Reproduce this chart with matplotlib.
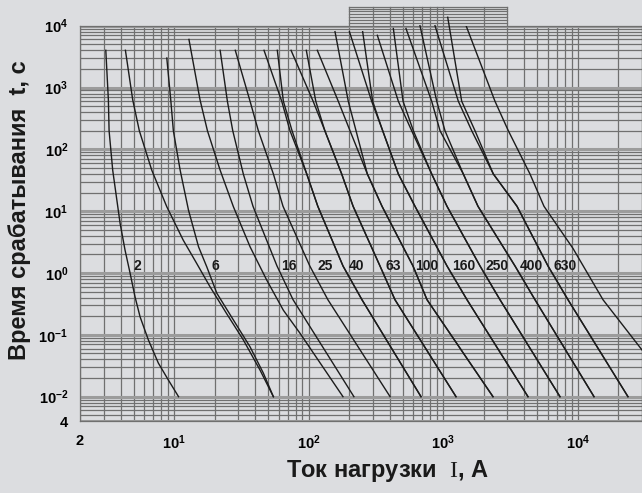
import matplotlib.pyplot as plt

plt.rcParams['font.family'] = ['Liberation Sans', 'DejaVu Sans']
plt.rcParams['mathtext.fontset'] = 'custom'
plt.rcParams['mathtext.bf'] = 'Liberation Sans:bold'
plt.rcParams['mathtext.rm'] = 'Liberation Serif'

BG = '#dcdde0'
GRID = '#707070'
CURVE = '#1c1c1c'

# single curves: current (A) and time (s)
c1_I = [3.11, 3.25, 3.29, 3.50, 3.97, 4.32, 4.71, 5.13, 5.59, 6.44, 7.64, 9.07, 10.8]
c1_t = [4000, 630, 200, 46, 6.4, 2.36, 1.0, 0.41, 0.196, 0.083, 0.035, 0.0186, 0.01]
c2_I = [4.35, 4.93, 5.52, 6.83, 8.83, 11.7, 14.7, 18.5, 24.6, 32.7, 43.5, 54.7]
c2_t = [4000, 630, 200, 46, 11.8, 3.4, 1.44, 0.6, 0.22, 0.083, 0.027, 0.01]
c3_I = [8.83, 9.45, 9.88, 11.1, 12.8, 15.2, 17.5, 20.8, 27.6, 36.7, 46.1, 54.7]
c3_t = [3000, 630, 200, 46, 10.4, 2.66, 1.26, 0.47, 0.174, 0.064, 0.024, 0.01]
c4_I = [12.9, 15.6, 17.7, 22.0, 27.6, 36.7, 48.8, 64.9, 86.3, 180]
c4_t = [6000, 630, 200, 46, 11.8, 2.66, 0.77, 0.25, 0.106, 0.01]
c5_I = [22.0, 24.9, 27.3, 32.7, 38.6, 58.2, 76.6, 217]
c5_t = [4000, 600, 200, 40, 12, 1.3, 0.37, 0.01]
c6_I = [28.5, 36.7, 42.3, 54.7, 64.5, 102, 139, 403]
c6_t = [4000, 600, 200, 40, 12, 1.3, 0.37, 0.01]
c21_I = [1387, 2425, 3047, 4413, 5608, 9211, 15390, 30000]
c21_t = [14400, 600, 200, 40, 12, 2.5, 0.37, 0.057]

# paired curves: two upper branches (start, 600 s, 200 s) joining one common tail
head_t = [600, 200]
pair_start_t = [(4000, 4000), (4000, 4000), (4000, 8000), (8000, 8000),
                (7000, 9000), (9000, 10000), (10000, 13700)]
pair_heads = [([46.6, 63.1, 72.7], [58.5, 64.9, 75.3]),
              ([74.0, 108, 132], [96.1, 113, 132]),
              ([116, 166, 203], [157, 197, 225]),
              ([201, 294, 355], [252, 299, 355]),
              ([324, 464, 583], [426, 503, 600]),
              ([529, 821, 947], [672, 895, 1031]),
              ([869, 1295, 1629], [1080, 1372, 1723])]
tail_t = [40, 12, 1.3, 0.37, 0.01]
pair_tails = [[96.8, 117, 180, 249, 684],
              [176, 214, 339, 438, 1245],
              [273, 351, 596, 758, 2344],
              [464, 617, 1067, 1502, 4266],
              [821, 1067, 1877, 2642, 7376],
              [1410, 1813, 3415, 4808, 13200],
              [2357, 3534, 6006, 8457, 23600]]

# rating labels
label_text = ['2', '6', '16', '25', '40', '63', '100', '160', '250', '400', '630']
label_I = [5.3, 20.2, 70.7, 132, 225, 426, 754, 1410, 2510, 4545, 8034]
label_t = 1.3

fig = plt.figure(figsize=(6.42, 4.93), dpi=100, facecolor=BG)
ax = fig.add_axes([80 / 642, 1 - 421.3 / 493, 562 / 642, 395.6 / 493])
ax.set_facecolor(BG)
ax.set_xscale('log')
ax.set_yscale('log')
ax.set_xlim(2, 3e4)
ax.set_ylim(4e-3, 1e4)

ax.grid(True, which='minor', color=GRID, lw=0.9)
ax.xaxis.grid(True, which='major', color=GRID, lw=0.9)
ax.yaxis.grid(True, which='major', color='#9c9c9c', lw=2.2)
ax.set_axisbelow(True)
for s in ax.spines.values():
    s.set_color(GRID)
    s.set_linewidth(0.9)

# patch of grid above the frame
patch_x = [200, 300, 400, 500, 600, 700, 800, 900, 1000, 2000, 3000]
patch_y = [1.12e4, 1.25e4, 1.4e4, 1.55e4, 1.7e4, 1.85e4, 2e4]
for x in patch_x:
    ax.plot([x, x], [1e4, 2e4], color=GRID, lw=0.9, clip_on=False)
for y in patch_y:
    ax.plot([200, 3000], [y, y], color=GRID, lw=0.9, clip_on=False)

kw = dict(color=CURVE, lw=1.0, clip_on=False, zorder=3)
for I, t in [(c1_I, c1_t), (c2_I, c2_t), (c3_I, c3_t), (c4_I, c4_t),
             (c5_I, c5_t), (c6_I, c6_t)]:
    ax.plot(I, t, **kw)
ax.plot(c21_I, c21_t, color=CURVE, lw=1.0, zorder=3)

for (ts1, ts2), (h1, h2), tail in zip(pair_start_t, pair_heads, pair_tails):
    ax.plot(h1 + tail, [ts1] + head_t + tail_t, **kw)
    ax.plot(h2 + tail, [ts2] + head_t + tail_t, **kw)

for txt, x in zip(label_text, label_I):
    ax.text(x, label_t, txt, ha='center', va='center', fontsize=10,
            fontweight='bold', color='#1a1a1a', zorder=4)

yt = [4e-3, 1e-2, 1e-1, 1, 10, 100, 1e3, 1e4]
ytl = ['4', r'$\mathbf{10^{-2}}$', r'$\mathbf{10^{-1}}$', r'$\mathbf{10^{0}}$',
       r'$\mathbf{10^{1}}$', r'$\mathbf{10^{2}}$', r'$\mathbf{10^{3}}$', r'$\mathbf{10^{4}}$']
xt = [2, 10, 100, 1e3, 1e4]
xtl = ['2', r'$\mathbf{10^{1}}$', r'$\mathbf{10^{2}}$', r'$\mathbf{10^{3}}$', r'$\mathbf{10^{4}}$']
ax.set_yticks(yt)
ax.set_yticklabels(ytl)
ax.set_xticks(xt)
ax.set_xticklabels(xtl)
ax.tick_params(which='both', length=0)
ax.tick_params(axis='y', pad=8.5, labelsize=10.5)
ax.tick_params(axis='x', pad=9, labelsize=10.5)
for lab in ax.get_xticklabels() + ax.get_yticklabels():
    lab.set_fontweight('bold')

fig.text(20 / 642, 1 - 210 / 493, 'Время срабатывания  t, с', rotation=90,
         ha='center', va='center', fontsize=17, fontweight='bold', color='#1a1a1a')
fig.text(387 / 642, 1 - 471 / 493, r'Ток нагрузки  $\mathrm{I}$, А',
         ha='center', va='center', fontsize=17, fontweight='bold', color='#1a1a1a')

fig.savefig('out.png', dpi=100, facecolor=BG)
